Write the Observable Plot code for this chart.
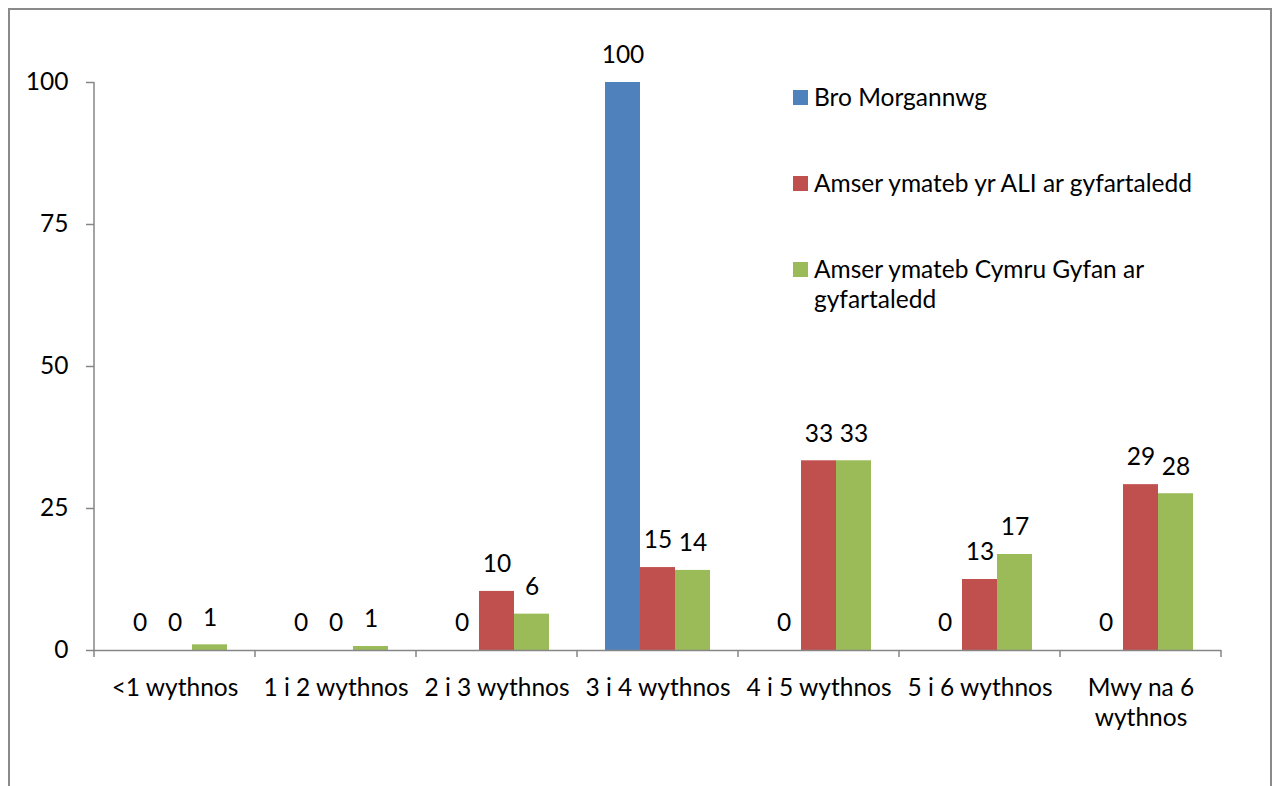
<!DOCTYPE html>
<html>
<head>
<meta charset="utf-8">
<script src="https://cdn.jsdelivr.net/npm/d3@7"></script>
<script src="https://cdn.jsdelivr.net/npm/@observablehq/plot@0.6"></script>
<style>
html, body { margin: 0; padding: 0; background: #fff; overflow: hidden; }
#wrap { position: relative; width: 1278px; height: 786px; font-family: Lato, sans-serif; }
#border { position: absolute; left: 8px; top: 8px; width: 1264px; height: 800px; border: 2px solid #8a8a8a; box-sizing: border-box; }
#chart { position: absolute; left: 0; top: 0; }
.item { position: absolute; left: 793px; font-size: 24.5px; line-height: 30px; color: #000; white-space: pre; }
.sw { position: absolute; left: 0; top: 8px; width: 15px; height: 15px; }
.lbl { position: absolute; left: 21px; top: 0; }
</style>
</head>
<body>
<div id="wrap"><div id="border"></div><div id="chart"></div><div id="legend"></div></div>
<script>
const categories = ["<1 wythnos", "1 i 2 wythnos", "2 i 3 wythnos", "3 i 4 wythnos", "4 i 5 wythnos", "5 i 6 wythnos", "Mwy na 6 wythnos"];
const categoryLabels = ["<1 wythnos", "1 i 2 wythnos", "2 i 3 wythnos", "3 i 4 wythnos", "4 i 5 wythnos", "5 i 6 wythnos", "Mwy na 6\nwythnos"];
const series = ["Bro Morgannwg", "Amser ymateb yr ALI ar gyfartaledd", "Amser ymateb Cymru Gyfan ar gyfartaledd"];
const legendLabels = ["Bro Morgannwg", "Amser ymateb yr ALI ar gyfartaledd", "Amser ymateb Cymru Gyfan ar\ngyfartaledd"];
const broMorgannwg = [0, 0, 0, 100, 0, 0, 0];
const aliAverage = [0, 0, 10.4, 14.6, 33.4, 12.5, 29.2];
const walesAverage = [1.0, 0.7, 6.4, 14.1, 33.4, 16.9, 27.6];
const colors = ["#4F81BD", "#C0504D", "#9BBB59"];
const yTicks = [0, 25, 50, 75, 100];

const seriesValues = [broMorgannwg, aliAverage, walesAverage];
const data = [];
categories.forEach((c, i) => series.forEach((s, j) => data.push({category: c, series: s, value: seriesValues[j][i]})));

const axisColor = "#868686";
const fs = 24.5;
const chart = Plot.plot({
  width: 1278,
  height: 786,
  marginLeft: 91,
  marginRight: 54,
  marginTop: 82,
  marginBottom: 136,
  style: {fontFamily: "Lato, sans-serif", fontSize: fs + "px", color: "#000", background: "transparent", overflow: "visible"},
  fx: {domain: categories, padding: 0, axis: null},
  x: {domain: series, paddingInner: 0, paddingOuter: 0.75, axis: null},
  y: {domain: [0, 100], axis: null},
  color: {domain: series, range: colors},
  marks: [
    Plot.axisY({ticks: yTicks, tickSize: 8, tickFormat: () => "", color: axisColor, strokeWidth: 1.5, label: null}),
    Plot.axisY({ticks: yTicks, tickSize: 0, tickPadding: 26, color: "#000", fontSize: fs, label: null}),
    Plot.barY(data, {fx: "category", x: "series", y: "value", fill: "series"}),
    Plot.ruleY([0], {stroke: axisColor, strokeWidth: 1.5}),
    Plot.text(data, {fx: "category", x: "series", y: "value", text: d => String(Math.round(d.value)), dy: -27, fontSize: fs, fill: "#000"}),
    Plot.text(categories, {fx: d => d, text: (d, i) => categoryLabels[i], frameAnchor: "bottom", lineAnchor: "top", dy: 24, lineHeight: 1.22, fontSize: fs, fill: "#000"})
  ]
});

document.getElementById("chart").appendChild(chart);

// category boundary ticks and y axis line, positioned via Plot's own scales
const fx = chart.scale("fx"), y = chart.scale("y");
const y0 = y.apply(0), yTop = y.apply(100);
const edges = categories.map(c => fx.apply(c)).concat([fx.apply(categories[categories.length - 1]) + fx.bandwidth]);
const g = d3.select(chart).append("g").attr("stroke", axisColor).attr("stroke-width", 1.5);
edges.forEach(e => g.append("line").attr("x1", e).attr("x2", e).attr("y1", y0).attr("y2", y0 + 7));
g.append("line").attr("x1", edges[0]).attr("x2", edges[0]).attr("y1", y0 + 0.75).attr("y2", yTop);

// legend inside the plot area
const legend = d3.select("#legend");
const rowTops = [82, 168, 254];
series.forEach((s, i) => {
  const it = legend.append("div").attr("class", "item").style("top", rowTops[i] + "px");
  it.append("div").attr("class", "sw").style("background", colors[i]);
  it.append("div").attr("class", "lbl").text(legendLabels[i]);
});
</script>
</body>
</html>
